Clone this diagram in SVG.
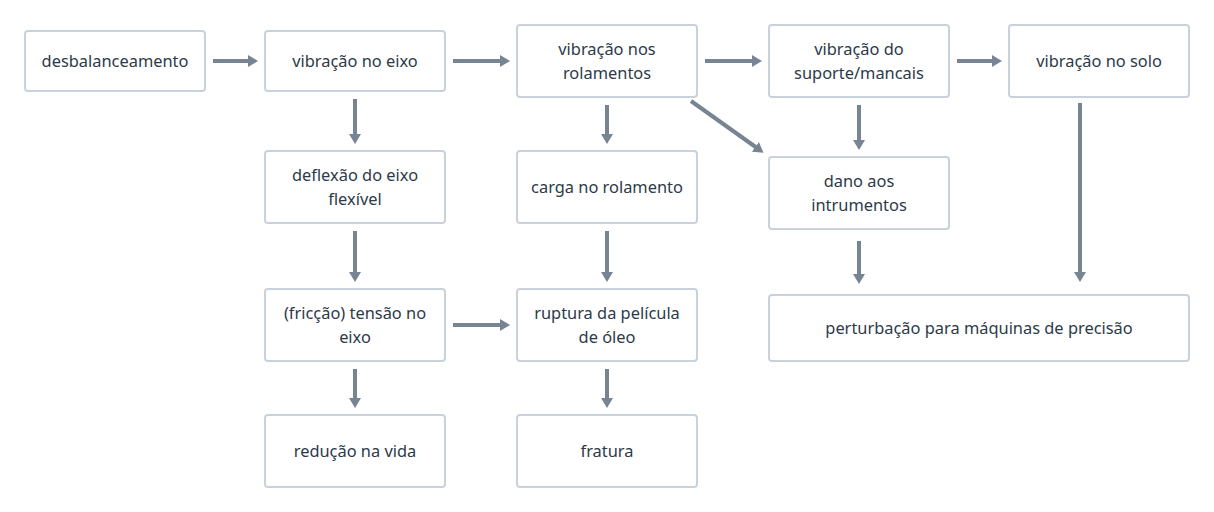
<svg xmlns="http://www.w3.org/2000/svg" width="1214" height="512" viewBox="0 0 1214 512">
<defs>
<style>
.box{fill:#fff;stroke:#c9d1da;stroke-width:2}
.t{font-family:"Noto Sans","Open Sans",sans-serif;font-size:16.4px;fill:#2c3a49;text-anchor:middle}
.c{stroke:#778593;stroke-width:4;fill:none;marker-end:url(#ah)}
</style>
<marker id="ah" viewBox="0 0 10 12" refX="2" refY="6" markerWidth="10" markerHeight="12" markerUnits="userSpaceOnUse" orient="auto">
<path d="M0,0 L10,6 L0,12 Z" fill="#778593"/>
</marker>
</defs>
<rect width="1214" height="512" fill="#fff"/>
<g id="connectors">
<line class="c" x1="213" y1="61" x2="250" y2="61"/>
<line class="c" x1="453" y1="61" x2="502" y2="61"/>
<line class="c" x1="705" y1="61" x2="754" y2="61"/>
<line class="c" x1="957" y1="61" x2="994" y2="61"/>
<line class="c" x1="355" y1="99" x2="355" y2="136"/>
<line class="c" x1="607" y1="105" x2="607" y2="136"/>
<line class="c" x1="691" y1="101" x2="757" y2="148"/>
<line class="c" x1="859" y1="105" x2="859" y2="142"/>
<line class="c" x1="1080" y1="103" x2="1080" y2="274"/>
<line class="c" x1="355" y1="231" x2="355" y2="274"/>
<line class="c" x1="607" y1="231" x2="607" y2="274"/>
<line class="c" x1="859" y1="241" x2="859" y2="276"/>
<line class="c" x1="453" y1="325" x2="502" y2="325"/>
<line class="c" x1="355" y1="369" x2="355" y2="400"/>
<line class="c" x1="607" y1="369" x2="607" y2="400"/>
</g>
<g id="n1"><rect class="box" x="25" y="31" width="180" height="60" rx="3"/><text class="t" x="115" y="67">desbalanceamento</text></g>
<g id="n2"><rect class="box" x="265" y="31" width="180" height="60" rx="3"/><text class="t" x="355" y="67">vibração no eixo</text></g>
<g id="n3"><rect class="box" x="517" y="25" width="180" height="72" rx="3"/><text class="t" x="607" y="55">vibração nos</text><text class="t" x="607" y="79">rolamentos</text></g>
<g id="n4"><rect class="box" x="769" y="25" width="180" height="72" rx="3"/><text class="t" x="859" y="55">vibração do</text><text class="t" x="859" y="79">suporte/mancais</text></g>
<g id="n5"><rect class="box" x="1009" y="25" width="180" height="72" rx="3"/><text class="t" x="1099" y="67">vibração no solo</text></g>
<g id="n6"><rect class="box" x="265" y="151" width="180" height="72" rx="3"/><text class="t" x="355" y="181">deflexão do eixo</text><text class="t" x="355" y="205">flexível</text></g>
<g id="n7"><rect class="box" x="517" y="151" width="180" height="72" rx="3"/><text class="t" x="607" y="193">carga no rolamento</text></g>
<g id="n8"><rect class="box" x="769" y="157" width="180" height="72" rx="3"/><text class="t" x="859" y="187">dano aos</text><text class="t" x="859" y="211">intrumentos</text></g>
<g id="n9"><rect class="box" x="265" y="289" width="180" height="72" rx="3"/><text class="t" x="355" y="319">(fricção) tensão no</text><text class="t" x="355" y="343">eixo</text></g>
<g id="n10"><rect class="box" x="517" y="289" width="180" height="72" rx="3"/><text class="t" x="607" y="319">ruptura da película</text><text class="t" x="607" y="343">de óleo</text></g>
<g id="n11"><rect class="box" x="769" y="295" width="420" height="66" rx="3"/><text class="t" x="979" y="334">perturbação para máquinas de precisão</text></g>
<g id="n12"><rect class="box" x="265" y="415" width="180" height="72" rx="3"/><text class="t" x="355" y="457">redução na vida</text></g>
<g id="n13"><rect class="box" x="517" y="415" width="180" height="72" rx="3"/><text class="t" x="607" y="457">fratura</text></g>
</svg>
